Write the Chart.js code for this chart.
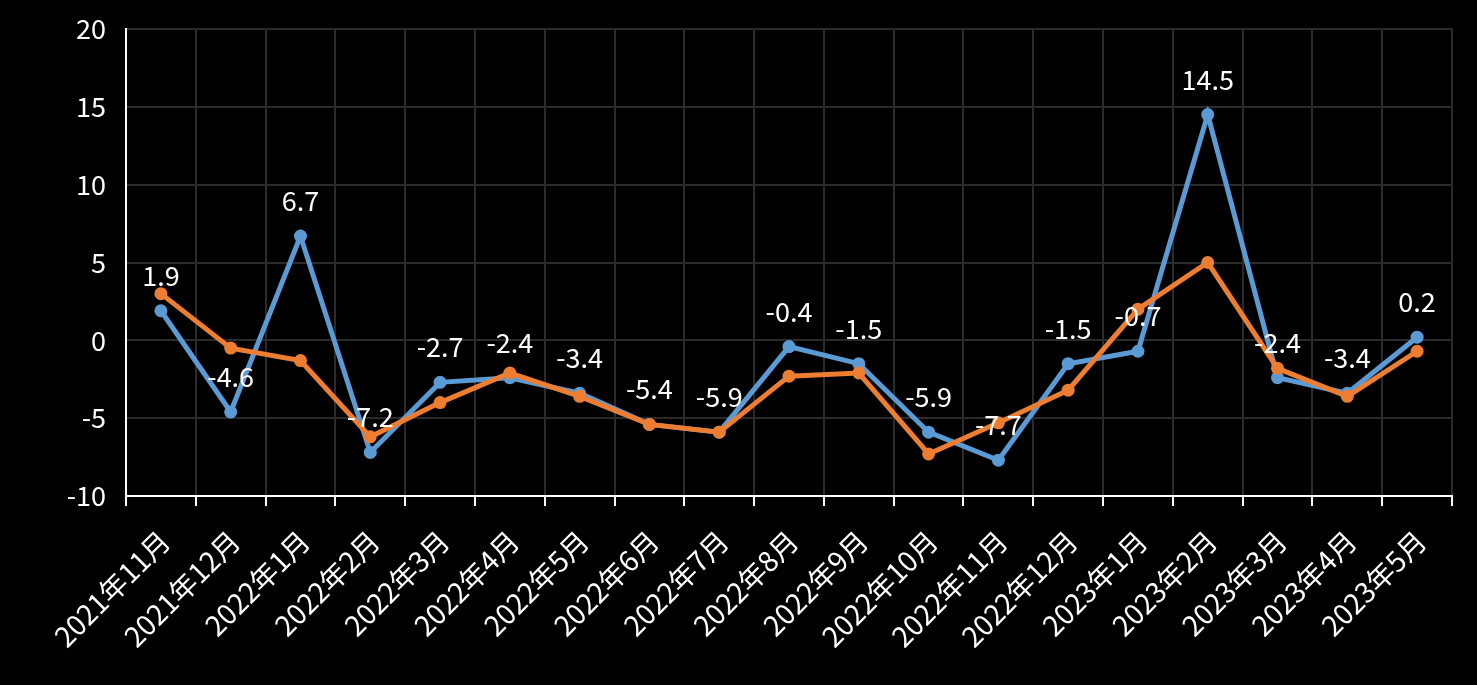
<!DOCTYPE html>
<html>
<head>
<meta charset="utf-8">
<script src="https://cdn.jsdelivr.net/npm/chart.js@4.4.1/dist/chart.umd.min.js"></script>
<style>
html,body{margin:0;padding:0;background:#000;}
#wrap{width:1477px;height:685px;position:relative;}
</style>
</head>
<body>
<div id="wrap"><canvas id="c" width="1477" height="685"></canvas></div>
<script>
const categories = ["2021年11月","2021年12月","2022年1月","2022年2月","2022年3月","2022年4月","2022年5月","2022年6月","2022年7月","2022年8月","2022年9月","2022年10月","2022年11月","2022年12月","2023年1月","2023年2月","2023年3月","2023年4月","2023年5月"];
const blueSeries = [1.9,-4.6,6.7,-7.2,-2.7,-2.4,-3.4,-5.4,-5.9,-0.4,-1.5,-5.9,-7.7,-1.5,-0.7,14.5,-2.4,-3.4,0.2];
const orangeSeries = [3.0,-0.5,-1.3,-6.2,-4.0,-2.1,-3.6,-5.4,-5.9,-2.3,-2.1,-7.3,-5.3,-3.2,2.0,5.0,-1.8,-3.6,-0.7];
const yTicks = {min:-10, max:20, step:5};

const FONT = '"Noto Sans CJK SC", "Open Sans", sans-serif';

const labelPlugin = {
  id:'valueLabels',
  afterDatasetsDraw(chart){
    const ctx = chart.ctx;
    const meta = chart.getDatasetMeta(1);
    ctx.save();
    ctx.fillStyle = '#fff';
    ctx.font = '27px ' + FONT;
    ctx.textAlign = 'center';
    ctx.textBaseline = 'alphabetic';
    meta.data.forEach((pt,i)=>{
      ctx.fillText(String(blueSeries[i]), pt.x, pt.y - 25);
    });
    ctx.restore();
  }
};

new Chart(document.getElementById('c'), {
  type:'line',
  data:{
    labels:categories,
    datasets:[
      {label:'orange', data:orangeSeries, borderColor:'#ED7D31', backgroundColor:'#ED7D31',
       borderWidth:5, pointRadius:6.5, pointBackgroundColor:'#ED7D31', pointBorderWidth:0, tension:0},
      {label:'blue', data:blueSeries, borderColor:'#5B9BD5', backgroundColor:'#5B9BD5',
       borderWidth:5, pointRadius:6.5, pointBackgroundColor:'#5B9BD5', pointBorderWidth:0, tension:0}
    ]
  },
  options:{
    responsive:false,
    animation:false,
    devicePixelRatio:1,
    layout:{padding:{left:0,top:0,right:25,bottom:0}},
    plugins:{legend:{display:false}, tooltip:{enabled:false}},
    scales:{
      x:{
        offset:true,
        grid:{offset:true, color:'#2b2b2b', lineWidth:2, tickColor:'#fff', tickLength:10, tickWidth:2, drawTicks:true},
        border:{color:'#fff', width:2},
        ticks:{color:'#fff', font:{family:FONT, size:28}, minRotation:45, maxRotation:45, autoSkip:false, padding:18, labelOffset:4},
        afterFit(s){ s.height = 189; }
      },
      y:{
        min:yTicks.min, max:yTicks.max,
        grid:{color:'#2b2b2b', lineWidth:2, drawTicks:false},
        border:{color:'#fff', width:2},
        ticks:{stepSize:yTicks.step, color:'#fff', font:{family:FONT, size:27}, padding:20},
        afterFit(s){ s.width = 126; s.paddingTop = 29; }
      }
    }
  },
  plugins:[labelPlugin]
});
</script>
</body>
</html>
